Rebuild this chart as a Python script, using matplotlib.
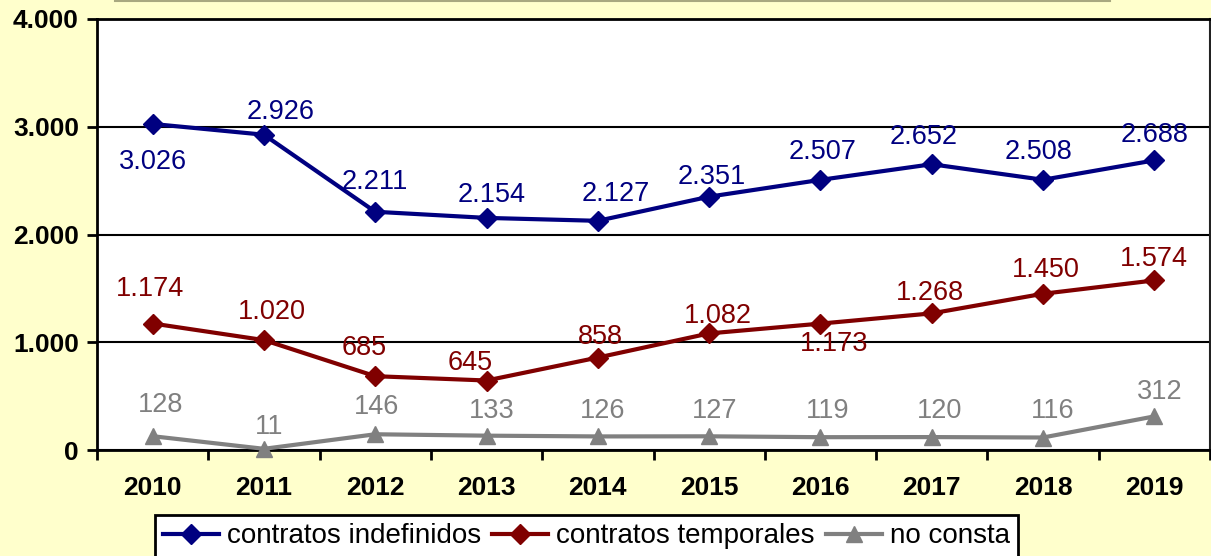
import matplotlib.pyplot as plt
from matplotlib.lines import Line2D

plt.rcParams['font.family'] = ['Liberation Sans', 'DejaVu Sans']

# data
years = ['2010', '2011', '2012', '2013', '2014', '2015', '2016', '2017', '2018', '2019']
indefinidos = [3026, 2926, 2211, 2154, 2127, 2351, 2507, 2652, 2508, 2688]
temporales = [1174, 1020, 685, 645, 858, 1082, 1173, 1268, 1450, 1574]
no_consta = [128, 11, 146, 133, 126, 127, 119, 120, 116, 312]

# label offsets in pixels (dx, dy), positive dy = up
off_ind = [(0, -38), (17, 23), (0, 30), (5, 23), (18, 27), (3, 20), (2, 28), (-8, 27), (-5, 28), (0, 25)]
off_tem = [(-3, 35), (8, 28), (-11, 28), (-16, 18), (3, 21), (9, 17), (14, -20), (-2, 20), (3, 24), (0, 21)]
off_nc = [(8, 31), (5, 22), (1, 27), (5, 25), (5, 25), (5, 25), (7, 26), (8, 26), (10, 27), (5, 24)]

W, H = 1211, 556
fig = plt.figure(figsize=(W / 100, H / 100), dpi=100, facecolor='#FFFFCC')
ax = fig.add_axes([97 / W, 1 - 450 / H, 1113 / W, 431 / H])
ax.set_facecolor('white')

x = list(range(len(years)))
series = [
    (indefinidos, '#000080', 'D', 'contratos indefinidos', off_ind),
    (temporales, '#800000', 'D', 'contratos temporales', off_tem),
    (no_consta, '#808080', '^', 'no consta', off_nc),
]

for vals, col, mk, name, offs in series:
    ax.plot(x, vals, color=col, lw=3, marker=mk, ms=10 if mk == 'D' else 12,
            label=name, zorder=3, clip_on=False)
    for xi, v, (dx, dy) in zip(x, vals, offs):
        ax.annotate(f'{v:,}'.replace(',', '.'), (xi, v),
                    xytext=(dx * 0.72, dy * 0.72), textcoords='offset points',
                    ha='center', va='center', color=col, fontsize=19.5, zorder=4)

ax.set_xlim(-0.5, len(years) - 0.5)
ax.set_ylim(0, 4000)
ax.set_yticks([0, 1000, 2000, 3000, 4000])
ax.set_yticklabels(['0', '1.000', '2.000', '3.000', '4.000'])
ax.yaxis.grid(True, color='black', lw=1.5)
ax.set_axisbelow(True)

ax.set_xticks([i + 0.5 for i in range(-1, len(years))])
ax.set_xticklabels([])
ax.set_xticks(x, minor=True)
ax.set_xticklabels(years, minor=True)
ax.tick_params(axis='x', which='major', direction='out', length=7, width=2)
ax.tick_params(axis='x', which='minor', length=0, pad=19)
ax.tick_params(axis='y', direction='out', length=7, width=2, pad=6)
for lbl in ax.get_xticklabels(minor=True) + ax.get_yticklabels():
    lbl.set_fontsize(19)
    lbl.set_fontweight('bold')

for side in ['left', 'bottom', 'top']:
    ax.spines[side].set_linewidth(2)
    ax.spines[side].set_color('black')
ax.spines['right'].set_linewidth(1.5)
ax.spines['right'].set_color('#222222')

# remains of the title box at the top edge
fig.add_artist(Line2D([115 / W, 1110 / W], [1 - 0.5 / H, 1 - 0.5 / H], color='#A8A880', lw=1.5))

leg = fig.legend(loc='upper left', bbox_to_anchor=(155 / W, 1 - 515 / H), ncol=3,
                 fontsize=20, frameon=True, fancybox=False, edgecolor='black',
                 facecolor='white', framealpha=1, handlelength=2.0, handletextpad=0.3,
                 columnspacing=0.4, borderpad=0.3, borderaxespad=0)
leg.get_frame().set_linewidth(2)

fig.savefig('out.png', dpi=100, facecolor=fig.get_facecolor())
